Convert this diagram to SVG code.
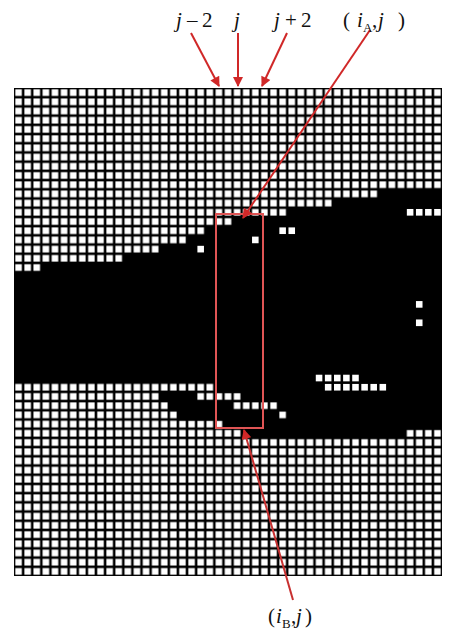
<svg xmlns="http://www.w3.org/2000/svg" width="457" height="631" viewBox="0 0 457 631">
<style>
.lbl{font-family:"Liberation Serif","Times New Roman",serif;font-size:21px;fill:#111}
.it{font-style:italic}
.sub{font-size:13px}
.arr{stroke:#d02828;stroke-width:2;fill:none;marker-end:url(#ah)}
.arb{stroke:#c83030;stroke-width:2;fill:none;marker-end:url(#ah)}
</style>
<defs>
<pattern id="cell" patternUnits="userSpaceOnUse" width="1" height="1">
<rect x="0.14" y="0.14" width="0.72" height="0.72" fill="#fff"/>
</pattern>
<marker id="ah" viewBox="0 0 10 10" refX="9" refY="5" markerWidth="6" markerHeight="5" orient="auto" markerUnits="strokeWidth">
<path d="M0,0 L10,5 L0,10 z" fill="#d02828"/>
</marker>
</defs>
<rect width="457" height="631" fill="#fff"/>
<g id="grid" transform="translate(14 88) scale(9.1064 9.2075)">
<rect x="0" y="0" width="47" height="53" fill="#000"/>
<rect x="0" y="0" width="47" height="53" fill="url(#cell)"/>
<path id="blob" fill="#000" d="
M40 11h7v1.1h-7z
M35 12h12v1.1h-12z
M30 13h17v1.1h-17z
M24 14h23v1.1h-23z
M21 15h26v1.1h-26z
M19 16h28v1.1h-28z
M16 17h31v1.1h-31z
M12 18h35v1.1h-35z
M3 19h44v1.1h-44z
M0 20h47v12h-47z
M22 32h25v1.1h-25z
M16 33h4v1.1h-4z M25 33h22v1.1h-22z
M17 34h7v1.1h-7z M29 34h18v1.1h-18z
M18 35h11v1.1h-11z M30 35h17v1.1h-17z
M23 36h24v1.1h-24z
M25 37h18v1h-18z"/>
<g id="holes" fill="#fff">
<rect x="43.14" y="13.14" width="0.72" height="0.72"/>
<rect x="44.14" y="13.14" width="0.72" height="0.72"/>
<rect x="45.14" y="13.14" width="0.72" height="0.72"/>
<rect x="46.14" y="13.14" width="0.72" height="0.72"/>
<rect x="29.14" y="15.14" width="0.72" height="0.72"/>
<rect x="30.14" y="15.14" width="0.72" height="0.72"/>
<rect x="26.14" y="16.14" width="0.72" height="0.72"/>
<rect x="20.14" y="17.14" width="0.72" height="0.72"/>
<rect x="44.14" y="23.14" width="0.72" height="0.72"/>
<rect x="44.14" y="25.14" width="0.72" height="0.72"/>
<rect x="33.14" y="31.14" width="0.72" height="0.72"/>
<rect x="34.14" y="31.14" width="0.72" height="0.72"/>
<rect x="35.14" y="31.14" width="0.72" height="0.72"/>
<rect x="36.14" y="31.14" width="0.72" height="0.72"/>
<rect x="37.14" y="31.14" width="0.72" height="0.72"/>
<rect x="34.14" y="32.14" width="0.72" height="0.72"/>
<rect x="35.14" y="32.14" width="0.72" height="0.72"/>
<rect x="36.14" y="32.14" width="0.72" height="0.72"/>
<rect x="37.14" y="32.14" width="0.72" height="0.72"/>
<rect x="38.14" y="32.14" width="0.72" height="0.72"/>
<rect x="39.14" y="32.14" width="0.72" height="0.72"/>
<rect x="40.14" y="32.14" width="0.72" height="0.72"/>
</g>
</g>
<g id="connectors">
<rect x="216" y="214" width="47" height="214" fill="none" stroke="#e05555" stroke-width="2"/>
<line class="arr" x1="191" y1="33" x2="219" y2="86"/>
<line class="arr" x1="238" y1="33" x2="238" y2="86"/>
<line class="arr" x1="287" y1="33" x2="262" y2="86"/>
<line class="arr" x1="370" y1="30" x2="243" y2="218"/>
<line class="arb" x1="293" y1="600" x2="244" y2="430"/>
</g>
<g id="labels">
<text class="lbl" y="27"><tspan class="it" x="176">j</tspan><tspan x="187">–</tspan><tspan x="202">2</tspan></text>
<text class="lbl it" x="234" y="27">j</text>
<text class="lbl" y="27"><tspan class="it" x="274">j</tspan><tspan x="285">+</tspan><tspan x="301">2</tspan></text>
<text class="lbl" y="27"><tspan x="343">(</tspan><tspan class="it" x="357">i</tspan><tspan class="sub" x="363" dy="5">A</tspan><tspan x="372" dy="-5">,</tspan><tspan class="it" x="378">j</tspan><tspan x="398">)</tspan></text>
<text class="lbl" y="623"><tspan x="268">(</tspan><tspan class="it" x="276">i</tspan><tspan class="sub" x="282" dy="5">B</tspan><tspan x="291" dy="-5">,</tspan><tspan class="it" x="296">j</tspan><tspan x="305">)</tspan></text>
</g>
</svg>
